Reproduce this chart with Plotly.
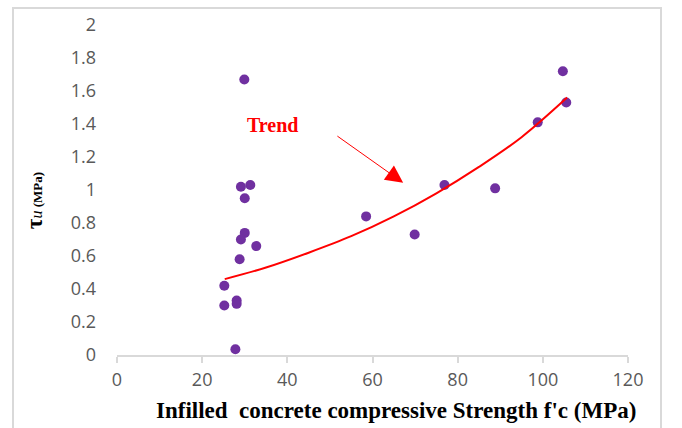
import plotly.graph_objects as go

# Data
fc = [29.9, 29.1, 31.3, 30.0, 30.0, 29.1, 32.7, 28.8, 25.2, 25.2, 28.1, 28.1, 27.8,
      104.7, 105.5, 98.8, 76.9, 88.8, 58.5, 69.9]
tau = [1.67, 1.02, 1.03, 0.95, 0.74, 0.70, 0.66, 0.58, 0.42, 0.30, 0.33, 0.31, 0.035,
       1.72, 1.53, 1.41, 1.03, 1.01, 0.84, 0.73]

trend_x = [25.3, 35, 45, 55, 65, 75, 85, 95, 105.7]
trend_y = [0.46, 0.53, 0.62, 0.72, 0.84, 0.98, 1.14, 1.32, 1.56]

x_ticks = [0, 20, 40, 60, 80, 100, 120]
y_ticks = [0, 0.2, 0.4, 0.6, 0.8, 1, 1.2, 1.4, 1.6, 1.8, 2]
y_tick_text = ["0", "0.2", "0.4", "0.6", "0.8", "1", "1.2", "1.4", "1.6", "1.8", "2"]

x_title = "Infilled  concrete compressive Strength f'c (MPa)"

fig = go.Figure()
fig.add_trace(go.Scatter(x=fc, y=tau, mode="markers",
                         marker=dict(color="#7030a0", size=10), showlegend=False))
fig.add_trace(go.Scatter(x=trend_x, y=trend_y, mode="lines",
                         line=dict(color="#ff0000", width=2, shape="spline"),
                         showlegend=False))

serif = "Liberation Serif"
tickfont = dict(family="Open Sans", size=18, color="#595959")

fig.update_layout(
    width=682, height=428,
    margin=dict(l=117, r=54, t=25, b=73),
    paper_bgcolor="white", plot_bgcolor="white",
    font=dict(family=serif),
    xaxis=dict(range=[0, 120], tickvals=x_ticks, showgrid=False, zeroline=False,
               showline=True, linecolor="#d9d9d9", linewidth=1.5,
               ticks="outside", ticklen=6, tickcolor="#d9d9d9", tickwidth=1.5,
               tickfont=tickfont, ticklabelstandoff=2),
    yaxis=dict(range=[0, 2], tickvals=y_ticks, ticktext=y_tick_text, showgrid=False,
               zeroline=False, showline=False, ticks="", tickfont=tickfont,
               ticklabelstandoff=20),
    annotations=[
        dict(text="<b>Trend</b>", x=36.6, y=1.394, xref="x", yref="y", showarrow=False,
             font=dict(family=serif, size=20, color="#ff0000")),
        dict(text="", x=67.2, y=1.044, ax=51.4, ay=1.333, xref="x", yref="y",
             axref="x", ayref="y", showarrow=True, arrowhead=2, arrowsize=3.5,
             arrowwidth=1, arrowcolor="#ff0000"),
        dict(text="<b>" + x_title + "</b>", x=0.546, y=-0.167, xref="paper", yref="paper",
             xanchor="center", yanchor="middle", showarrow=False,
             font=dict(family=serif, size=23, color="black")),
        dict(text="<span style='font-size:23px'><b>τ</b></span><i>u</i><span style='font-size:13px'><b> (MPa)</b></span>",
             x=-0.16, y=0.467, xref="paper", yref="paper", xanchor="center", yanchor="middle",
             showarrow=False, textangle=-90,
             font=dict(family=serif, size=16, color="black")),
    ],
    shapes=[dict(type="rect", xref="paper", yref="paper", x0=-0.2035, x1=1.0646,
                 y0=-0.3, y1=1.0515, line=dict(color="#d9d9d9", width=2),
                 fillcolor="rgba(0,0,0,0)", layer="below")],
)

fig.write_html("out.html")
